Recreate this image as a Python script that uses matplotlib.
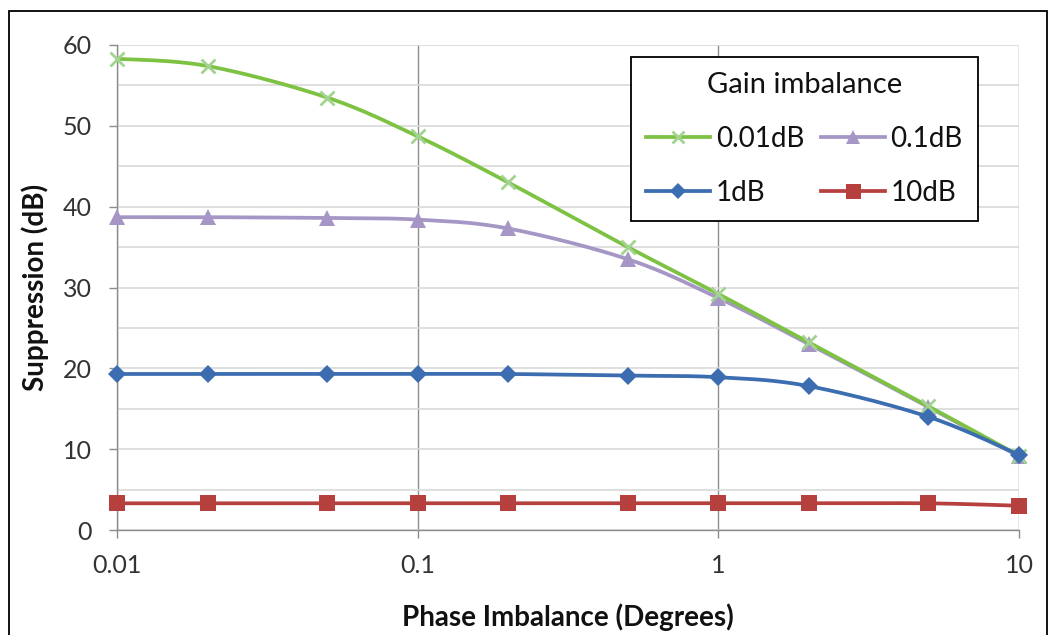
import numpy as np
import matplotlib
matplotlib.use("Agg")
import matplotlib.pyplot as plt
from matplotlib.patches import Rectangle
from matplotlib.lines import Line2D
from matplotlib.ticker import MultipleLocator, NullLocator, FixedLocator, FixedFormatter

plt.rcParams['font.family'] = ['Lato', 'DejaVu Sans']

# ---- data ----
phase_deg = [0.01, 0.02, 0.05, 0.1, 0.2, 0.5, 1, 2, 5, 10]
gain_001dB = [58.3, 57.4, 53.5, 48.7, 43.0, 35.0, 29.2, 23.2, 15.3, 9.2]
gain_01dB = [38.7, 38.7, 38.6, 38.4, 37.3, 33.5, 28.7, 23.0, 15.2, 9.1]
gain_1dB = [19.3, 19.3, 19.3, 19.3, 19.3, 19.1, 18.9, 17.8, 14.0, 9.3]
gain_10dB = [3.3, 3.3, 3.3, 3.3, 3.3, 3.3, 3.3, 3.3, 3.3, 3.0]
series_labels = ['0.01dB', '0.1dB', '1dB', '10dB']
x_ticks = [0.01, 0.1, 1, 10]
x_tick_labels = ['0.01', '0.1', '1', '10']
y_ticks = [0, 10, 20, 30, 40, 50, 60]

colors = {'0.01dB': '#7DC242', '0.1dB': '#A596C6', '1dB': '#3B6DB0', '10dB': '#B5403D'}
mcolors = {'0.01dB': '#A2D490', '0.1dB': '#A596C6', '1dB': '#3B6DB0', '10dB': '#B5403D'}
markers = {'0.01dB': 'x', '0.1dB': '^', '1dB': 'D', '10dB': 's'}
msizes = {'0.01dB': 10, '0.1dB': 11, '1dB': 9, '10dB': 12}
zorders = {'0.01dB': 4, '0.1dB': 3, '1dB': 5, '10dB': 6}


def smooth(x, y, n=30):
    """Bezier smoothing in log-x space (Excel-like smoothed line)."""
    lx = np.log10(np.asarray(x, float))
    yy = np.asarray(y, float)
    P = np.column_stack([lx, yy])
    P = np.vstack([P[0], P, P[-1]])
    out = []
    t = np.linspace(0, 1, n)[:, None]
    for i in range(1, len(P) - 2):
        p0, p1, p2, p3 = P[i - 1], P[i], P[i + 1], P[i + 2]
        c1 = p1 + (p2 - p0) / 6.0
        c2 = p2 - (p3 - p1) / 6.0
        seg = ((1 - t) ** 3) * p1 + 3 * ((1 - t) ** 2) * t * c1 + 3 * (1 - t) * t ** 2 * c2 + t ** 3 * p2
        out.append(seg if i == 1 else seg[1:])
    S = np.vstack(out)
    return 10 ** S[:, 0], S[:, 1]


fig = plt.figure(figsize=(10.6, 6.35), dpi=100)
W, H = 1060, 635
ax = fig.add_axes([117 / W, 1 - 530 / H, (1019 - 117) / W, (530 - 45) / H])

# outer frame
fig.patches.append(Rectangle((9 / W, -0.05), (1047 - 9) / W, 1 - 11 / H + 0.05,
                             transform=fig.transFigure, fill=False,
                             edgecolor='black', linewidth=1.3, zorder=0))

ax.set_xscale('log')
ax.set_xlim(0.01, 10)
ax.set_ylim(0, 60)

handles = {}
for lab, ys in zip(series_labels, [gain_001dB, gain_01dB, gain_1dB, gain_10dB]):
    sx, sy = smooth(phase_deg, ys)
    ax.plot(sx, sy, color=colors[lab], lw=2.7, zorder=zorders[lab], solid_capstyle='round')
    mew = 2.0 if markers[lab] == 'x' else 0
    ax.plot(phase_deg, ys, linestyle='none', marker=markers[lab], markersize=msizes[lab],
            color=mcolors[lab], markeredgewidth=mew, zorder=zorders[lab], clip_on=False)
    handles[lab] = Line2D([], [], color=colors[lab], lw=2.7, marker=markers[lab],
                          markersize=msizes[lab] * 0.9, markerfacecolor=mcolors[lab],
                          markeredgecolor=mcolors[lab], markeredgewidth=mew)

# grid & axes
ax.yaxis.set_major_locator(FixedLocator(y_ticks))
ax.yaxis.set_minor_locator(MultipleLocator(5))
ax.xaxis.set_major_locator(FixedLocator(x_ticks))
ax.xaxis.set_major_formatter(FixedFormatter(x_tick_labels))
ax.xaxis.set_minor_locator(NullLocator())
ax.grid(axis='y', which='both', color='#D9D9D9', lw=1.2, zorder=0)
ax.grid(axis='x', which='major', color='#8C8C8C', lw=1.0, zorder=0)
ax.set_axisbelow(True)
for s in ['top', 'right']:
    ax.spines[s].set_visible(False)
for s in ['left', 'bottom']:
    ax.spines[s].set_color('#8C8C8C')
    ax.spines[s].set_linewidth(1.0)
ax.tick_params(axis='both', which='major', length=6, width=1.0, color='#8C8C8C',
               labelsize=18, labelcolor='#333333')
ax.tick_params(axis='y', which='minor', length=0)
ax.tick_params(axis='y', which='major', pad=12)
ax.tick_params(axis='x', which='major', pad=11)

ax.set_xlabel('Phase Imbalance (Degrees)', fontsize=20, fontweight='bold', labelpad=19,
              color='#111111')
ax.set_ylabel('Suppression (dB)', fontsize=20, fontweight='bold', labelpad=10,
              color='#111111')

order = ['0.01dB', '1dB', '0.1dB', '10dB']
leg = ax.legend([handles[k] for k in order], order, ncol=2, title='Gain imbalance',
                loc='upper left', bbox_to_anchor=(514 / 902, 473 / 485), borderaxespad=0,
                fontsize=20, title_fontsize=21, frameon=True, fancybox=False, framealpha=1,
                edgecolor='black', handlelength=2.3, handletextpad=0.2,
                columnspacing=0.6, labelspacing=1.0, borderpad=0.55)
leg.get_frame().set_linewidth(1.3)
leg.set_zorder(10)
for t in leg.get_texts():
    t.set_color('#111111')
leg.get_title().set_color('#111111')

fig.savefig('out.png', dpi=100)
